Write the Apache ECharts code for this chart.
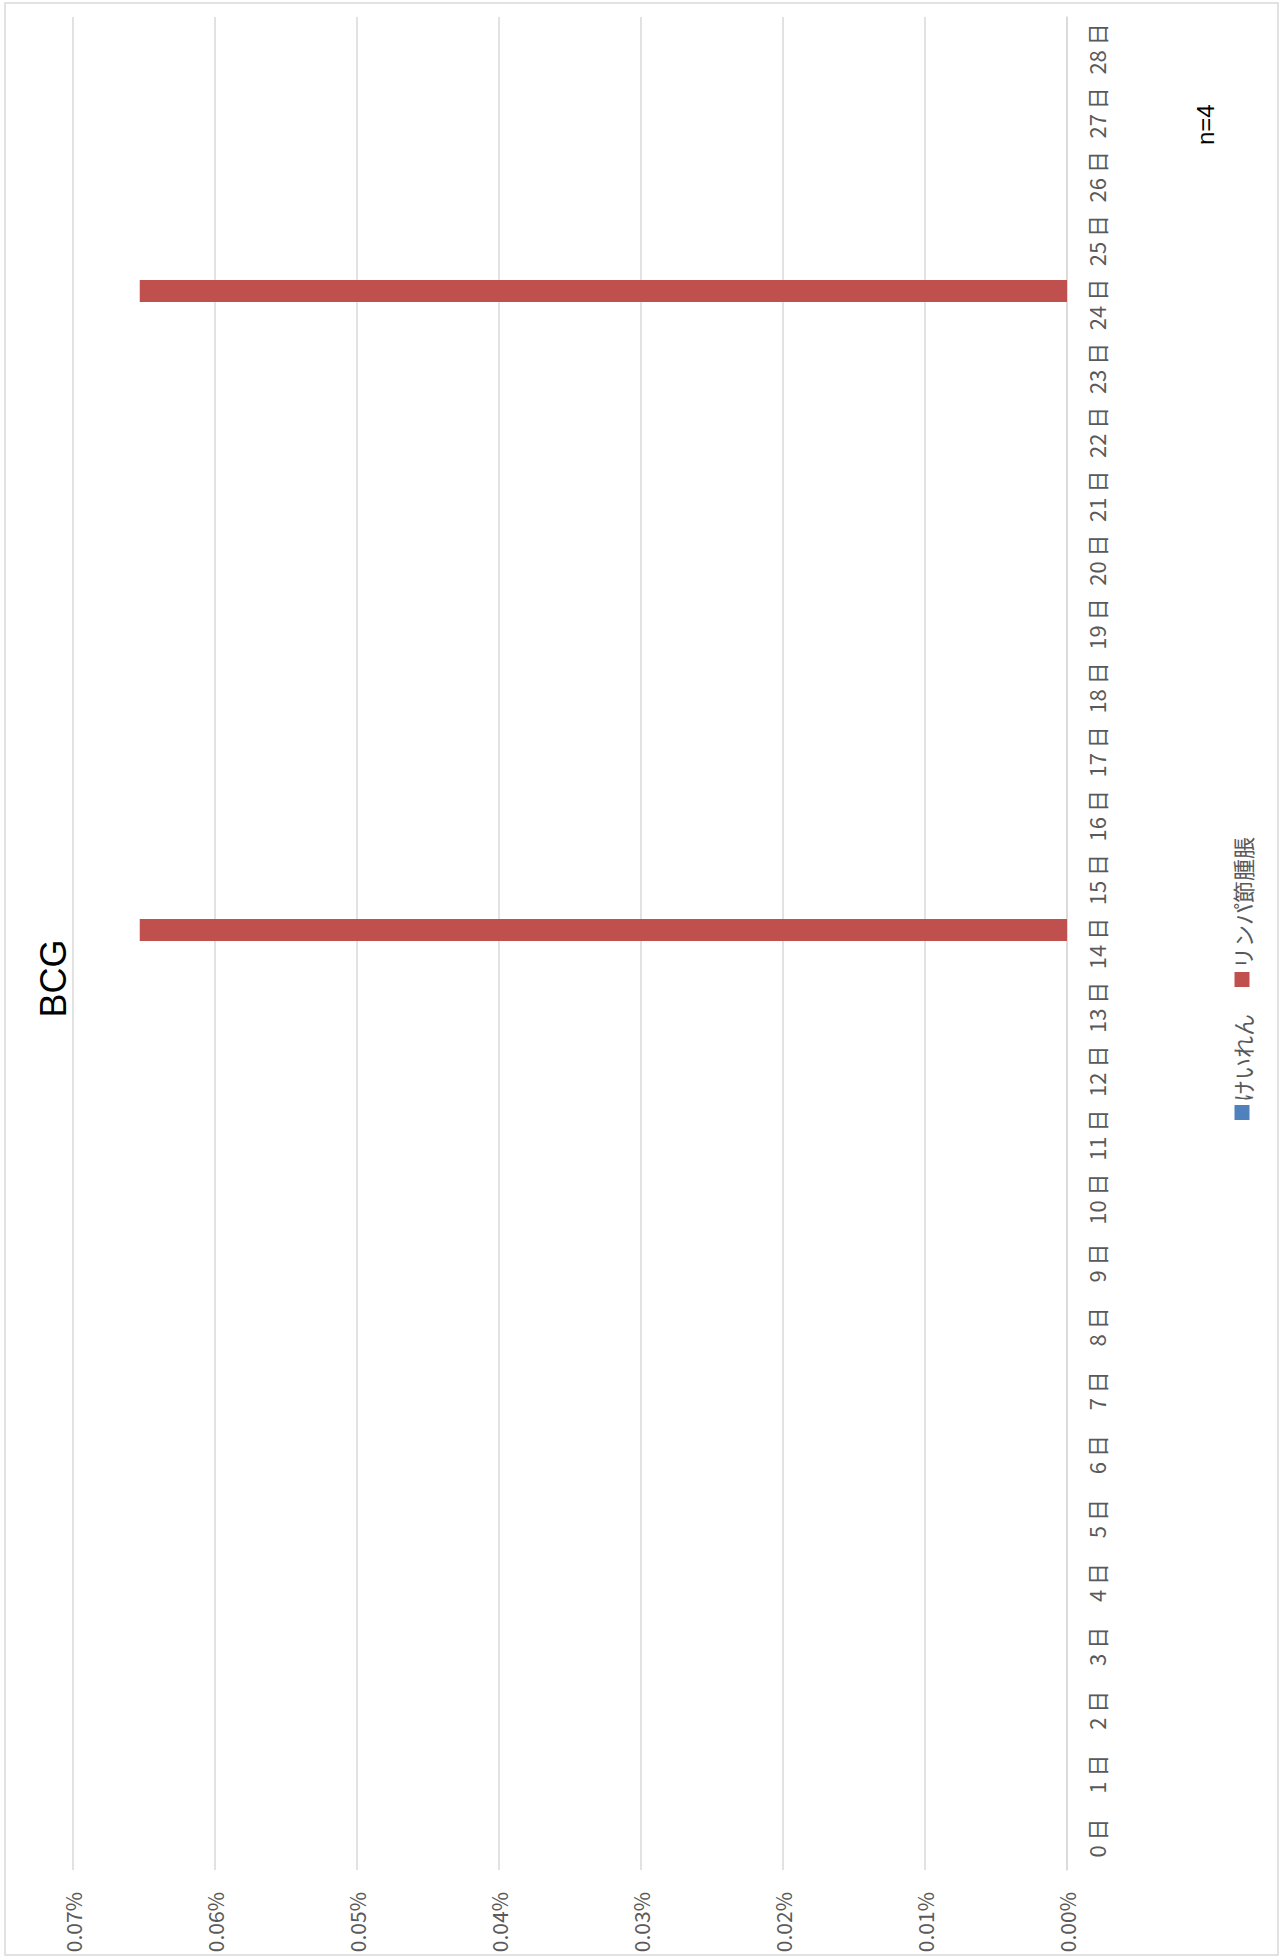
<!DOCTYPE html>
<html>
<head>
<meta charset="utf-8">
<script src="https://cdn.jsdelivr.net/npm/echarts@6/dist/echarts.min.js"></script>
<style>
html,body{margin:0;padding:0;background:#fff;overflow:hidden;width:1282px;height:1957px;}
#chart{position:absolute;left:0;top:0;width:1957px;height:1282px;transform-origin:0 0;transform:translateY(1957px) rotate(-90deg);background:#fff;}
</style>
</head>
<body>
<div id="chart"></div>
<script>
const titleText = 'BCG';
const noteText = 'n=4';
const categories = ['0 日','1 日','2 日','3 日','4 日','5 日','6 日','7 日','8 日','9 日','10 日','11 日','12 日','13 日','14 日','15 日','16 日','17 日','18 日','19 日','20 日','21 日','22 日','23 日','24 日','25 日','26 日','27 日','28 日'];
const seriesNames = ['けいれん','リンパ節腫脹'];
const keirenValues = [0,0,0,0,0,0,0,0,0,0,0,0,0,0,0,0,0,0,0,0,0,0,0,0,0,0,0,0,0];
const lymphValues  = [0,0,0,0,0,0,0,0,0,0,0,0,0,0,0.0653,0,0,0,0,0,0,0,0,0,0.0653,0,0,0,0];
const valueMin = 0, valueMax = 0.07, valueStep = 0.01;

const chart = echarts.init(document.getElementById('chart'), null, {renderer:'svg', width:1957, height:1282});
const labelFont = '"Noto Sans CJK JP", "Noto Sans", sans-serif';
chart.setOption({
  backgroundColor:'#ffffff',
  animation:false,
  title:{text:titleText, left:'center', top:30, textStyle:{fontFamily:'"Liberation Sans", Arial, sans-serif', fontSize:36, fontWeight:'normal', color:'#000'}},
  legend:{data:seriesNames, left:'center', top:1226, itemWidth:15, itemHeight:15, itemGap:27, icon:'rect',
    textStyle:{fontFamily:labelFont, fontSize:22, color:'#595959', padding:[0,0,0,-2]}},
  grid:{left:87, right:17, top:73, bottom:215, containLabel:false},
  xAxis:{type:'category', data:categories,
    axisLine:{lineStyle:{color:'#d9d9d9', width:1.5}}, axisTick:{show:false},
    axisLabel:{interval:0, margin:18, fontFamily:labelFont, fontSize:22, color:'#595959'}},
  yAxis:{type:'value', min:valueMin, max:valueMax, interval:valueStep,
    axisLine:{show:false}, axisTick:{show:false},
    splitLine:{lineStyle:{color:'#d9d9d9', width:1.5}},
    axisLabel:{margin:22, fontFamily:labelFont, fontSize:21, color:'#595959', formatter:v=>v.toFixed(2)+'%'}},
  series:[
    {name:seriesNames[0], type:'bar', data:keirenValues, barWidth:22, barGap:'23%', itemStyle:{color:'#4F81BD'}},
    {name:seriesNames[1], type:'bar', data:lymphValues, barWidth:22, barGap:'23%', itemStyle:{color:'#C0504D'}}
  ],
  graphic:[
    {type:'rect', shape:{x:2, y:5, width:1952, height:1273}, style:{fill:'none', stroke:'#d9d9d9', lineWidth:1.5}, silent:true},
    {type:'text', x:1812, y:1205, style:{text:noteText, fontFamily:'"Liberation Sans", Arial, sans-serif', fontSize:24, fill:'#000', verticalAlign:'middle'}}
  ]
});
</script>
</body>
</html>
